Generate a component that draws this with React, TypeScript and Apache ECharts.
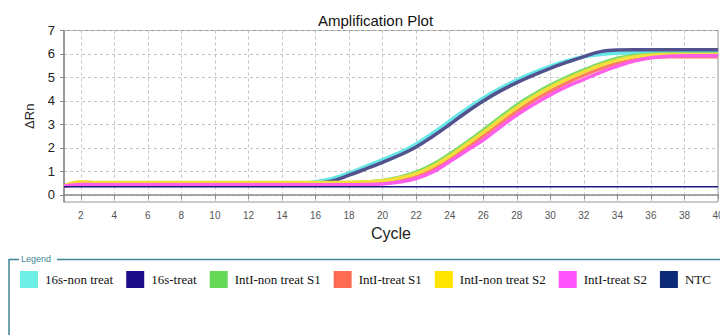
import React, { useEffect, useRef } from "react";
import * as echarts from "echarts";

const cycles: number[] = Array.from({ length: 40 }, (_, i) => i + 1);

const seriesNames = [
  "16s-non treat",
  "16s-treat",
  "IntI-non treat S1",
  "IntI-treat S1",
  "IntI-non treat S2",
  "IntI-treat S2",
  "NTC",
];

// ΔRn values for cycles 1..40
const s16NonTreat = [
  0.38, 0.5, 0.48, 0.48, 0.48, 0.48, 0.48, 0.48, 0.48, 0.48,
  0.48, 0.48, 0.48, 0.48, 0.5, 0.56, 0.7, 0.94, 1.22, 1.5,
  1.8, 2.17, 2.64, 3.15, 3.66, 4.13, 4.54, 4.9, 5.21, 5.48,
  5.71, 5.88, 5.98, 6.03, 6.05, 6.05, 6.05, 6.05, 6.05, 6.05,
];
const s16Treat = [
  0.38, 0.46, 0.44, 0.44, 0.44, 0.44, 0.44, 0.44, 0.44, 0.44,
  0.44, 0.44, 0.44, 0.44, 0.45, 0.49, 0.6, 0.84, 1.11, 1.39,
  1.69, 2.04, 2.5, 3.0, 3.52, 4.0, 4.42, 4.78, 5.1, 5.39,
  5.65, 5.89, 6.1, 6.17, 6.18, 6.18, 6.18, 6.18, 6.18, 6.18,
];
const intINonTreatS1 = [
  0.38, 0.52, 0.5, 0.5, 0.5, 0.5, 0.5, 0.5, 0.5, 0.5,
  0.5, 0.5, 0.5, 0.5, 0.5, 0.5, 0.5, 0.52, 0.55, 0.62,
  0.76, 0.97, 1.3, 1.74, 2.24, 2.76, 3.3, 3.83, 4.28, 4.68,
  5.02, 5.32, 5.6, 5.82, 5.94, 5.98, 6.0, 6.0, 6.0, 6.0,
];
const intITreatS1 = [
  0.38, 0.54, 0.52, 0.52, 0.52, 0.52, 0.52, 0.52, 0.52, 0.52,
  0.52, 0.52, 0.52, 0.52, 0.52, 0.52, 0.52, 0.52, 0.53, 0.56,
  0.66, 0.84, 1.13, 1.55, 2.02, 2.52, 3.05, 3.55, 4.02, 4.42,
  4.78, 5.1, 5.38, 5.6, 5.76, 5.85, 5.88, 5.88, 5.88, 5.88,
];
const intINonTreatS2 = [
  0.38, 0.56, 0.53, 0.53, 0.53, 0.53, 0.53, 0.53, 0.53, 0.53,
  0.53, 0.53, 0.53, 0.53, 0.53, 0.53, 0.53, 0.54, 0.56, 0.6,
  0.72, 0.91, 1.22, 1.65, 2.15, 2.66, 3.2, 3.72, 4.18, 4.58,
  4.93, 5.24, 5.52, 5.74, 5.88, 5.95, 5.98, 5.98, 5.98, 5.98,
];
const intITreatS2 = [
  0.38, 0.45, 0.43, 0.43, 0.43, 0.43, 0.43, 0.43, 0.43, 0.43,
  0.43, 0.43, 0.43, 0.43, 0.43, 0.43, 0.43, 0.43, 0.44, 0.47,
  0.55, 0.7, 0.98, 1.42, 1.88, 2.34, 2.88, 3.4, 3.85, 4.26,
  4.62, 4.92, 5.22, 5.48, 5.7, 5.84, 5.9, 5.92, 5.92, 5.92,
];
const ntc = [
  0.35, 0.35, 0.35, 0.35, 0.35, 0.35, 0.35, 0.35, 0.35, 0.35,
  0.35, 0.35, 0.35, 0.35, 0.35, 0.35, 0.35, 0.35, 0.35, 0.35,
  0.35, 0.35, 0.35, 0.35, 0.35, 0.35, 0.35, 0.35, 0.35, 0.35,
  0.35, 0.35, 0.35, 0.35, 0.35, 0.35, 0.35, 0.35, 0.35, 0.35,
];

const seriesValues = [
  s16NonTreat,
  s16Treat,
  intINonTreatS1,
  intITreatS1,
  intINonTreatS2,
  intITreatS2,
  ntc,
];

const lineColors = ["#66e6e6", "#52528f", "#7ddc68", "#ff7a66", "#f2dd3a", "#ff5fe8", "#1a1a80"];
const legendColors = ["#6eeee4", "#1c0c8a", "#66d858", "#ff6a52", "#ffe400", "#ff55ff", "#0d2a78"];
const lineWidths = [3.5, 3.5, 3.5, 3.5, 3.5, 3.5, 1.5];

const xTicks = [2, 4, 6, 8, 10, 12, 14, 16, 18, 20, 22, 24, 26, 28, 30, 32, 34, 36, 38, 40];
const yTicks = [0, 1, 2, 3, 4, 5, 6, 7];

export default function App() {
  const ref = useRef<HTMLDivElement>(null);

  useEffect(() => {
    if (!ref.current) return;
    const chart = echarts.init(ref.current, null, { renderer: "svg" });

    const series = seriesNames.map((name, i) => ({
      name,
      type: "line",
      data: cycles.map((c, j) => [c, seriesValues[i][j]]),
      showSymbol: false,
      smooth: 0.4,
      z: i === 6 ? 3 : 2,
      lineStyle: { color: lineColors[i], width: lineWidths[i] },
      itemStyle: { color: lineColors[i] },
    }));

    chart.setOption({
      animation: false,
      backgroundColor: "#ffffff",
      title: {
        text: "Amplification Plot",
        left: 313,
        top: 8,
        textStyle: {
          fontFamily: "Liberation Sans",
          fontSize: 15,
          fontWeight: "normal",
          color: "#111",
        },
      },
      grid: {
        left: 64,
        right: 2,
        top: 30.5,
        bottom: 133,
        show: true,
        borderColor: "#9a9a9a",
        borderWidth: 1,
        backgroundColor: "#ffffff",
        outerBoundsMode: "none",
        containLabel: false,
      },
      legend: {
        left: 15,
        top: 266,
        icon: "rect",
        itemWidth: 18,
        itemHeight: 17,
        itemGap: 13,
        textStyle: {
          fontFamily: "Liberation Serif",
          fontSize: 13,
          color: "#111",
          padding: [0, 0, 0, 2],
        },
        data: seriesNames.map((name, i) => ({
          name,
          itemStyle: { color: legendColors[i], borderWidth: 0 },
        })),
      },
      xAxis: {
        type: "value",
        min: 1,
        max: 40,
        name: "Cycle",
        nameLocation: "middle",
        nameGap: 23,
        nameMoveOverlap: false,
        nameTextStyle: { fontFamily: "Liberation Sans", fontSize: 16, color: "#222" },
        axisLine: { show: true, lineStyle: { color: "#8a8a8a", width: 1.5 } },
        axisTick: { show: true, length: 4, customValues: xTicks, lineStyle: { color: "#8a8a8a" } },
        axisLabel: {
          customValues: xTicks,
          fontFamily: "Liberation Sans",
          fontSize: 10,
          color: "#555",
          margin: 8,
        },
        splitLine: { show: true, lineStyle: { color: "#c4c4c4", type: [3, 3] } },
      },
      yAxis: {
        type: "value",
        min: -0.3,
        max: 7,
        name: "ΔRn",
        nameLocation: "middle",
        nameGap: 28,
        nameMoveOverlap: false,
        nameTextStyle: { fontFamily: "Liberation Sans", fontSize: 13, color: "#222" },
        axisLine: { show: true, lineStyle: { color: "#8a8a8a", width: 1.5 } },
        axisTick: { show: true, length: 4, customValues: yTicks, lineStyle: { color: "#8a8a8a" } },
        axisLabel: {
          customValues: yTicks,
          fontFamily: "Liberation Sans",
          fontSize: 13,
          color: "#222",
          margin: 9,
        },
        splitLine: { show: true, lineStyle: { color: "#c4c4c4", type: [3, 3] } },
      },
      graphic: [
        {
          type: "polyline",
          shape: { points: [[9, 340], [9, 259.5], [19, 259.5]] },
          style: { stroke: "#3f8595", lineWidth: 1.5, fill: null },
        },
        {
          type: "line",
          shape: { x1: 57, y1: 259.5, x2: 722, y2: 259.5 },
          style: { stroke: "#3f8595", lineWidth: 1.5 },
        },
        {
          type: "text",
          x: 21,
          y: 259,
          style: {
            text: "Legend",
            fontFamily: "Liberation Sans",
            fontSize: 9,
            fill: "#3f8a9a",
            verticalAlign: "middle",
          },
        },
      ],
      series,
    });

    return () => chart.dispose();
  }, []);

  return (
    <div
      ref={ref}
      style={{ position: "absolute", left: 0, top: 0, width: 720, height: 335 }}
    />
  );
}
